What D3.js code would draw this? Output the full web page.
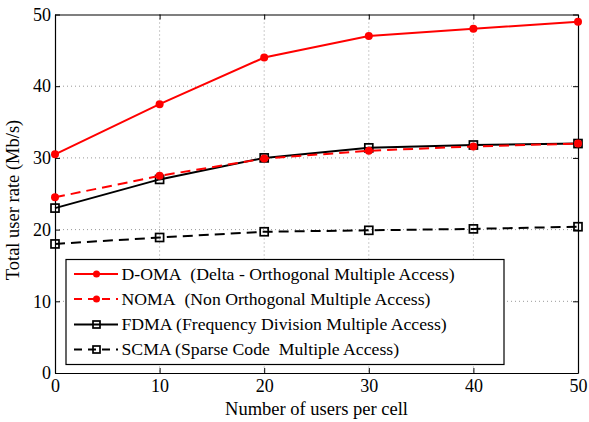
<!DOCTYPE html>
<html><head><meta charset="utf-8">
<script src="https://cdn.jsdelivr.net/npm/d3@7"></script>
</head><body style="margin:0">
<svg id="c" width="589" height="422"></svg>
<script>
const users = [0, 10, 20, 30, 40, 50];
const doma = [30.5, 37.5, 44.0, 47.0, 48.0, 49.0];
const noma = [24.5, 27.5, 29.9, 31.0, 31.6, 32.0];
const fdma = [23.0, 27.0, 30.0, 31.4, 31.8, 32.0];
const scma = [18.0, 18.9, 19.7, 19.9, 20.1, 20.4];
const xTicks = [0, 10, 20, 30, 40, 50];
const yTicks = [0, 10, 20, 30, 40, 50];
const seriesNames = [
  "D-OMA\u00a0\u00a0(Delta - Orthogonal Multiple Access)",
  "NOMA\u00a0\u00a0(Non Orthogonal Multiple Access)",
  "FDMA (Frequency Division Multiple Access)",
  "SCMA (Sparse Code\u00a0\u00a0Multiple Access)"
];

const FONT = "Liberation Serif";
const svg = d3.select("#c");
const L = 55, R = 578, T = 14.5, B = 373;
const x = d3.scaleLinear().domain([0, 50]).range([L, R]);
const y = d3.scaleLinear().domain([0, 50]).range([B, T]);

function txt(sel, size) {
  return sel.attr("font-family", FONT).attr("font-size", size).attr("fill", "#000");
}

// grid
const g = svg.append("g");
xTicks.slice(1, -1).forEach(t => g.append("line").attr("x1", x(t)).attr("x2", x(t)).attr("y1", T).attr("y2", B)
  .attr("stroke", "#999").attr("stroke-width", 1).attr("stroke-dasharray", "1,3"));
yTicks.slice(1, -1).forEach(t => g.append("line").attr("x1", L).attr("x2", R).attr("y1", y(t)).attr("y2", y(t))
  .attr("stroke", "#999").attr("stroke-width", 1).attr("stroke-dasharray", "1,3"));

// axes (ticks inward on all four sides)
const ax = svg.append("g").attr("transform", `translate(0,${B})`)
  .call(d3.axisBottom(x).tickValues(xTicks).tickSize(-5).tickPadding(6).tickSizeOuter(0));
const axT = svg.append("g").attr("transform", `translate(0,${T})`)
  .call(d3.axisTop(x).tickValues(xTicks).tickSize(-5).tickFormat("").tickSizeOuter(0));
const ay = svg.append("g").attr("transform", `translate(${L},0)`)
  .call(d3.axisLeft(y).tickValues(yTicks).tickSize(-5).tickPadding(4).tickSizeOuter(0));
const ayR = svg.append("g").attr("transform", `translate(${R},0)`)
  .call(d3.axisRight(y).tickValues(yTicks).tickSize(-5).tickFormat("").tickSizeOuter(0));
[ax, axT, ay, ayR].forEach(a => {
  a.attr("font-family", null).attr("font-size", null);
  a.selectAll("path").attr("stroke", "#000").attr("stroke-width", 1.2);
  a.selectAll("line").attr("stroke", "#000");
  txt(a.selectAll("text"), 18);
});

// axis labels
txt(svg.append("text"), 18.5).attr("x", (L + R) / 2).attr("y", 415).attr("text-anchor", "middle")
  .text("Number of users per cell");
txt(svg.append("text"), 18.5).attr("transform", `translate(19,200) rotate(-90)`).attr("text-anchor", "middle")
  .text("Total user rate (Mb/s)");

const line = d3.line().x((d, i) => x(users[i])).y(d => y(d));
const series = [
  {v: doma, color: "#ff0000", dash: null, mark: "circle"},
  {v: noma, color: "#ff0000", dash: "10,6", mark: "circle"},
  {v: fdma, color: "#000", dash: null, mark: "square"},
  {v: scma, color: "#000", dash: "10,6", mark: "square"}
];
const drawOrder = [3, 2, 1, 0];
drawOrder.forEach(k => {
  const s = series[k];
  svg.append("path").datum(s.v).attr("d", line).attr("fill", "none").attr("stroke", s.color)
    .attr("stroke-width", 2).attr("stroke-dasharray", s.dash);
  s.v.forEach((d, i) => {
    if (s.mark === "circle") {
      svg.append("circle").attr("cx", x(users[i])).attr("cy", y(d)).attr("r", 4).attr("fill", s.color);
    } else {
      svg.append("rect").attr("x", x(users[i]) - 4).attr("y", y(d) - 4).attr("width", 8).attr("height", 8)
        .attr("fill", "none").attr("stroke", s.color).attr("stroke-width", 1.7);
    }
  });
});

// legend
const lg = svg.append("g");
lg.append("rect").attr("x", 66).attr("y", 259.5).attr("width", 438).attr("height", 105)
  .attr("fill", "#fff").attr("stroke", "#000").attr("stroke-width", 1.2);
const rowY = [274, 299, 324.5, 349.5];
series.forEach((s, k) => {
  const cy = rowY[k];
  lg.append("line").attr("x1", 74).attr("x2", 118).attr("y1", cy).attr("y2", cy).attr("stroke", s.color)
    .attr("stroke-width", 2).attr("stroke-dasharray", s.dash ? "8,6" : null);
  if (s.mark === "circle") {
    lg.append("circle").attr("cx", 96.5).attr("cy", cy).attr("r", 3.5).attr("fill", s.color);
  } else {
    lg.append("rect").attr("x", 96.5 - 3.5).attr("y", cy - 3.5).attr("width", 7).attr("height", 7)
      .attr("fill", "none").attr("stroke", s.color).attr("stroke-width", 1.7);
  }
  txt(lg.append("text"), 17.7).attr("x", 121.5).attr("y", cy).attr("dy", "0.33em").text(seriesNames[k]);
});
</script></body></html>
